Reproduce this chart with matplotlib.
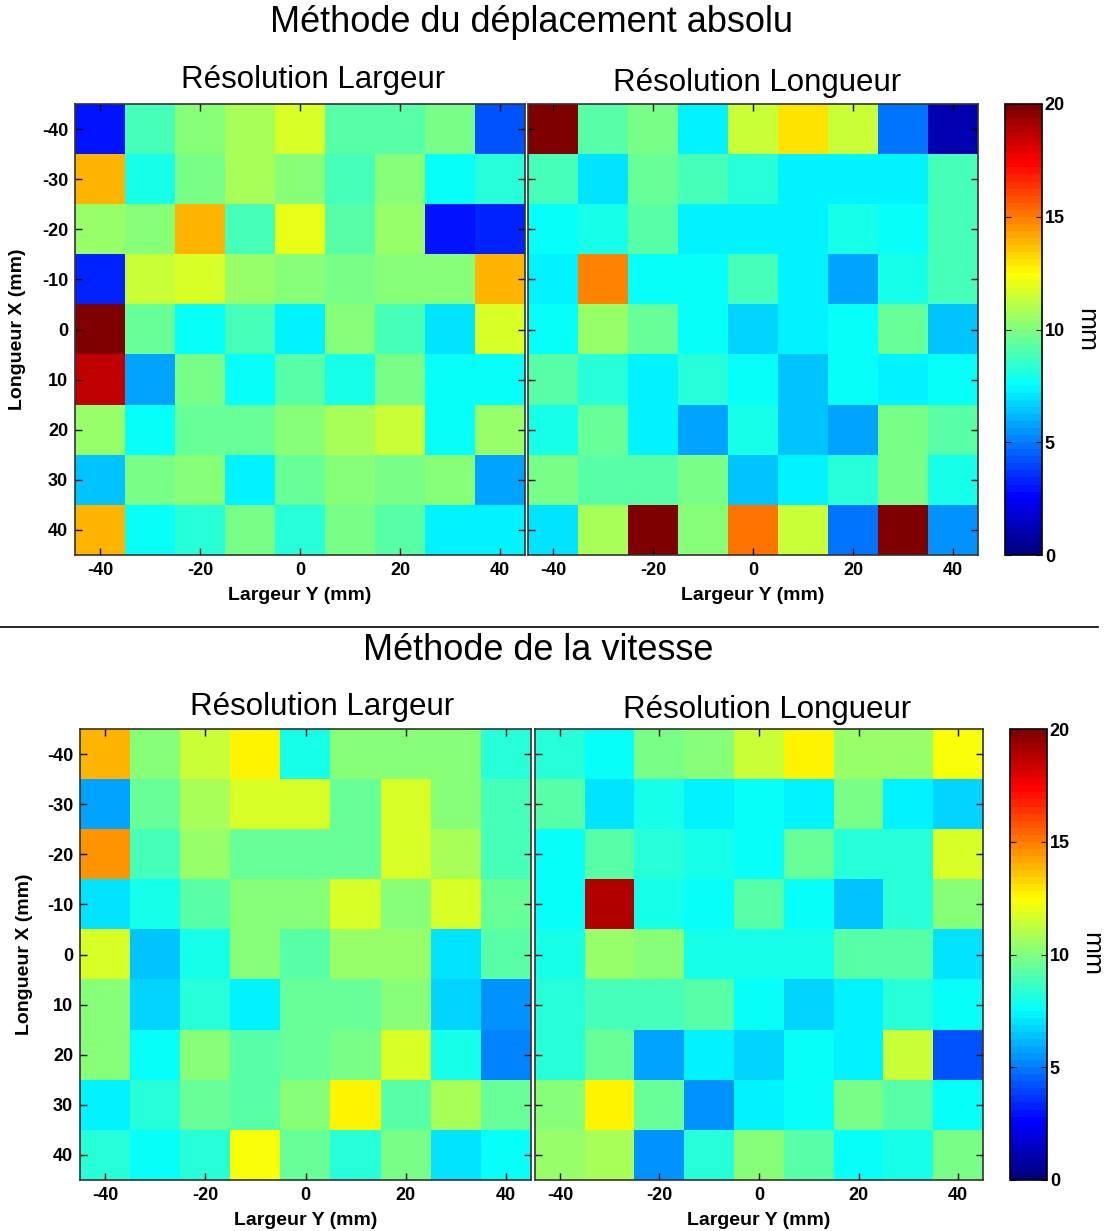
import matplotlib
matplotlib.use('Agg')

import numpy as np
import matplotlib.pyplot as plt
from matplotlib.colors import LinearSegmentedColormap
from matplotlib.lines import Line2D

plt.rcParams['font.family'] = ['Liberation Sans', 'DejaVu Sans']
plt.rcParams['axes.unicode_minus'] = False

# grid positions (mm)
pos_x = [-40, -30, -20, -10, 0, 10, 20, 30, 40]   # Longueur X (rows)
pos_y = [-40, -30, -20, -10, 0, 10, 20, 30, 40]   # Largeur Y (columns)
xticks = [-40, -20, 0, 20, 40]
cbar_ticks = [0, 5, 10, 15, 20]

# Méthode du déplacement absolu
depl_largeur = [
    [3.1, 8.8, 10.3, 10.9, 11.6, 9.2, 9.2, 9.7, 4.1],
    [13.75, 8.1, 9.7, 10.9, 10.0, 8.75, 10.0, 7.8, 8.4],
    [10.6, 10.0, 13.75, 8.75, 11.9, 9.1, 10.6, 3.1, 3.4],
    [3.4, 11.25, 11.6, 10.6, 10.0, 9.7, 10.3, 10.3, 13.75],
    [20.0, 9.4, 7.8, 8.75, 7.2, 10.0, 8.75, 6.9, 11.6],
    [18.5, 5.9, 9.7, 7.8, 9.1, 8.1, 9.7, 7.5, 7.5],
    [10.6, 7.5, 9.4, 9.4, 10.3, 10.9, 11.25, 7.8, 10.6],
    [6.25, 9.7, 10.3, 7.2, 9.4, 10.0, 9.7, 10.3, 5.9],
    [13.75, 7.5, 8.4, 9.7, 8.4, 9.7, 9.1, 7.2, 7.2],
]
depl_longueur = [
    [20.0, 9.1, 9.7, 7.2, 11.25, 13.1, 11.25, 4.7, 0.95],
    [8.75, 6.9, 9.4, 8.8, 8.4, 7.2, 7.2, 7.2, 8.75],
    [7.8, 8.1, 9.1, 7.2, 7.2, 7.2, 8.1, 7.8, 8.75],
    [7.2, 14.7, 7.8, 7.8, 8.75, 7.2, 5.9, 8.1, 8.75],
    [7.5, 10.6, 9.4, 7.5, 6.6, 7.2, 7.8, 9.4, 6.25],
    [9.1, 8.4, 7.2, 8.4, 7.8, 6.25, 7.8, 7.2, 7.5],
    [8.1, 9.4, 7.2, 5.9, 8.1, 6.25, 5.9, 9.7, 9.1],
    [9.7, 9.1, 9.1, 9.7, 6.25, 7.2, 8.4, 9.7, 8.1],
    [6.9, 10.9, 20.0, 10.0, 15.0, 11.25, 4.7, 20.0, 5.6],
]

# Méthode de la vitesse
vit_largeur = [
    [13.75, 10.0, 11.25, 12.8, 8.1, 10.3, 10.0, 10.0, 8.4],
    [5.9, 9.4, 10.9, 11.6, 11.6, 9.4, 11.6, 10.0, 8.75],
    [14.4, 8.75, 10.6, 9.4, 9.4, 9.4, 11.6, 10.9, 8.75],
    [6.9, 8.1, 9.1, 10.0, 10.0, 11.6, 10.3, 11.6, 9.4],
    [11.6, 6.25, 8.1, 10.0, 9.1, 10.6, 10.6, 6.9, 9.1],
    [10.0, 6.6, 8.4, 7.2, 9.4, 9.4, 10.3, 6.6, 5.6],
    [10.0, 7.8, 10.3, 9.1, 9.4, 9.7, 11.6, 8.1, 5.0],
    [7.2, 8.4, 9.4, 9.1, 10.0, 12.8, 9.1, 10.9, 9.4],
    [8.4, 7.8, 8.4, 12.2, 9.4, 8.4, 9.7, 6.9, 7.8],
]
vit_longueur = [
    [8.4, 7.5, 9.7, 10.0, 11.25, 12.8, 10.6, 10.6, 12.2],
    [9.1, 6.9, 8.1, 7.2, 7.5, 7.2, 9.7, 7.2, 6.6],
    [7.5, 9.1, 8.4, 8.1, 7.5, 9.4, 8.4, 8.4, 11.6],
    [7.8, 19.0, 8.1, 7.8, 9.1, 7.5, 6.25, 8.4, 10.3],
    [8.1, 10.6, 10.0, 8.1, 8.1, 8.1, 9.1, 9.1, 6.9],
    [8.4, 8.75, 8.75, 9.1, 7.5, 6.6, 7.2, 8.4, 7.8],
    [8.4, 9.4, 5.9, 7.2, 6.6, 7.5, 7.2, 11.25, 4.1],
    [10.0, 12.5, 9.4, 5.6, 7.2, 7.8, 9.7, 9.1, 7.5],
    [10.6, 10.9, 5.6, 8.4, 10.0, 9.1, 7.5, 8.1, 9.7],
]

# MATLAB-style jet, 64 levels
jet_ml = LinearSegmentedColormap('jet_ml', {
    'red':   [(0, 0, 0), (0.375, 0, 0), (0.625, 1, 1), (0.875, 1, 1), (1, 0.5, 0.5)],
    'green': [(0, 0, 0), (0.125, 0, 0), (0.375, 1, 1), (0.625, 1, 1), (0.875, 0, 0), (1, 0, 0)],
    'blue':  [(0, 0.5, 0.5), (0.125, 1, 1), (0.375, 1, 1), (0.625, 0, 0), (1, 0, 0)],
}, N=64)

W, H = 1105, 1231
fig = plt.figure(figsize=(W / 100, H / 100), dpi=100)


def px_axes(x0, y0, x1, y1):
    return fig.add_axes([x0 / W, 1 - y1 / H, (x1 - x0) / W, (y1 - y0) / H])


def heatmap(box, data, show_ylabel, ylab_x):
    ax = px_axes(*box)
    step = pos_y[1] - pos_y[0]
    ext = [pos_y[0] - step / 2, pos_y[-1] + step / 2, pos_x[-1] + step / 2, pos_x[0] - step / 2]
    im = ax.imshow(np.array(data), cmap=jet_ml, vmin=0, vmax=20, extent=ext,
                   aspect='auto', interpolation='nearest')
    ax.set_xticks(xticks)
    ax.set_yticks(pos_x)
    ax.tick_params(direction='in', top=True, right=True, length=5, width=1,
                   labelsize=13, pad=5)
    for lab in ax.get_xticklabels() + ax.get_yticklabels():
        lab.set_fontweight('bold')
    ax.set_xlabel('Largeur Y (mm)', fontsize=14, fontweight='bold')
    ax.xaxis.set_label_coords(0.5, -0.09)
    ax.xaxis.label.set_va('center')
    if show_ylabel:
        ax.set_ylabel('Longueur X (mm)', fontsize=14, fontweight='bold')
        ax.yaxis.set_label_coords(ylab_x, 0.5)
        ax.yaxis.label.set_va('center')
    else:
        ax.tick_params(labelleft=False)
    for sp in ax.spines.values():
        sp.set_color('#333333')
        sp.set_linewidth(1.2)
    return im


def colorbar(im, box):
    cax = px_axes(*box)
    cb = fig.colorbar(im, cax=cax, ticks=cbar_ticks)
    cax.tick_params(direction='in', left=True, right=True, length=4, labelsize=13, pad=2)
    for lab in cax.get_yticklabels():
        lab.set_fontweight('bold')
    cb.outline.set_linewidth(1.2)
    cb.set_label('mm', rotation=-90, fontsize=19)
    cax.yaxis.set_label_coords(2.2, 0.5)
    cax.yaxis.label.set_va('center')
    return cb


# top block
im = heatmap((75, 104, 525, 555), depl_largeur, True, -0.127)
heatmap((528, 104, 978, 555), depl_longueur, False, 0)
colorbar(im, (1005, 104, 1042, 555))

# bottom block
im = heatmap((80, 729, 531, 1180), vit_largeur, True, -0.122)
heatmap((535, 729, 983, 1180), vit_longueur, False, 0)
colorbar(im, (1010, 729, 1047, 1180))


def px_text(x, y, s, size):
    fig.text(x / W, 1 - y / H, s, fontsize=size, ha='center', va='center')


px_text(532, 22, 'Méthode du déplacement absolu', 26)
px_text(313, 80, 'Résolution Largeur', 22.5)
px_text(757, 83, 'Résolution Longueur', 22.5)
px_text(538, 651, 'Méthode de la vitesse', 26)
px_text(322, 707, 'Résolution Largeur', 22.5)
px_text(767, 710, 'Résolution Longueur', 22.5)

# separator between the two methods
fig.add_artist(Line2D([0, 1098 / W], [1 - 627 / H, 1 - 627 / H], color='black', linewidth=1.2))

fig.savefig('out.png', dpi=100, facecolor='white')
